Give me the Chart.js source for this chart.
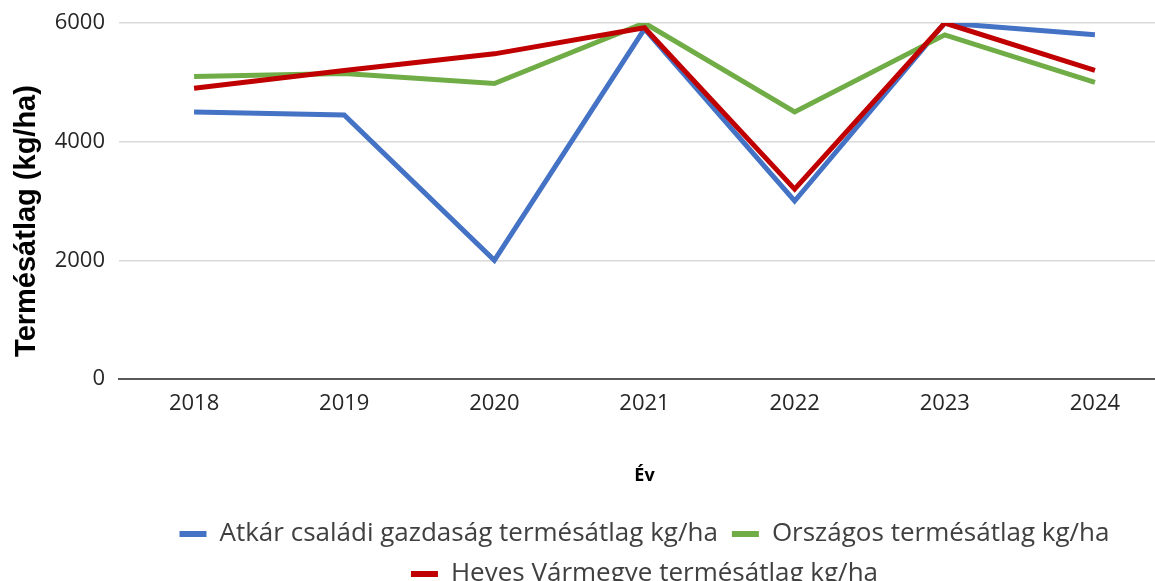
<!DOCTYPE html>
<html>
<head>
<meta charset="utf-8">
<script src="https://cdn.jsdelivr.net/npm/chart.js@4"></script>
<style>
  html, body { margin: 0; padding: 0; background: #fff; overflow: hidden; }
  #wrap { width: 1170px; height: 597px; }
</style>
</head>
<body>
<div id="wrap"><canvas id="yieldChart"></canvas></div>
<script>
const years = ['2018', '2019', '2020', '2021', '2022', '2023', '2024'];
const atkarYield = [4500, 4450, 2000, 5900, 3000, 6000, 5800];
const nationalYield = [5100, 5150, 4980, 6000, 4500, 5800, 5000];
const hevesYield = [4900, 5200, 5480, 5920, 3200, 6000, 5200];
const yTicks = [0, 2000, 4000, 6000];

// y axis title is drawn by hand so it can sit a bit lower than the plot centre
const yTitlePlugin = {
  id: 'yTitle',
  afterDraw(chart) {
    const ctx = chart.ctx;
    ctx.save();
    ctx.translate(27, 221);
    ctx.rotate(-Math.PI / 2);
    ctx.font = 'bold 29px "Liberation Sans", Arial, sans-serif';
    ctx.fillStyle = '#000';
    ctx.textAlign = 'center';
    ctx.textBaseline = 'middle';
    ctx.fillText('Termésátlag (kg/ha)', 0, 0);
    ctx.restore();
  }
};

const ctx = document.getElementById('yieldChart').getContext('2d');
const chart = new Chart(ctx, {
  type: 'line',
  data: {
    labels: years,
    datasets: [{
      label: 'Atkár családi gazdaság termésátlag kg/ha',
      data: atkarYield,
      borderColor: '#4472C4',
      backgroundColor: '#4472C4',
      order: 2
    }, {
      label: 'Országos termésátlag kg/ha',
      data: nationalYield,
      borderColor: '#70AD47',
      backgroundColor: '#70AD47',
      order: 1
    }, {
      label: 'Heves Vármegye termésátlag kg/ha',
      data: hevesYield,
      borderColor: '#C00000',
      backgroundColor: '#C00000',
      order: 0
    }]
  },
  options: {
    responsive: true,
    maintainAspectRatio: false,
    animation: false,
    layout: { padding: { top: 23, left: 0, right: 0, bottom: 0 } },
    elements: {
      line: { borderWidth: 5, tension: 0, borderJoinStyle: 'miter', borderCapStyle: 'butt' },
      point: { radius: 0 }
    },
    plugins: {
      tooltip: { enabled: false },
      legend: {
        position: 'bottom',
        fullSize: false,
        labels: {
          boxWidth: 27,
          boxHeight: 6,
          padding: 14,
          color: '#404040',
          font: { family: '"Open Sans", sans-serif', size: 26 },
          sort: (a, b) => a.datasetIndex - b.datasetIndex,
          generateLabels: (c) => Chart.defaults.plugins.legend.labels.generateLabels(c)
            .map(item => Object.assign(item, { lineWidth: 0 }))
        }
      }
    },
    scales: {
      x: {
        offset: true,
        grid: { display: false, drawTicks: false },
        border: { display: true, color: '#595959', width: 2 },
        ticks: {
          padding: 12,
          color: '#262626',
          font: { family: '"Open Sans", sans-serif', size: 22 }
        },
        title: {
          display: true,
          text: 'Év',
          color: '#000',
          font: { family: '"Open Sans", sans-serif', size: 18, weight: 'bold' },
          padding: { top: 0, bottom: 20 }
        },
        afterFit: (s) => { s.height = 128; }
      },
      y: {
        min: 0,
        max: 6000,
        afterBuildTicks: (s) => { s.ticks = yTicks.map(v => ({ value: v })); },
        grid: { color: '#d9d9d9', lineWidth: 1.5, drawTicks: false },
        border: { display: false },
        ticks: {
          padding: 14,
          color: '#262626',
          font: { family: '"Open Sans", sans-serif', size: 22, lineHeight: 0.8 },
          callback: (v) => String(v)
        },
        afterFit: (s) => { s.width = 119; }
      }
    }
  },
  plugins: [yTitlePlugin]
});
</script>
</body>
</html>
